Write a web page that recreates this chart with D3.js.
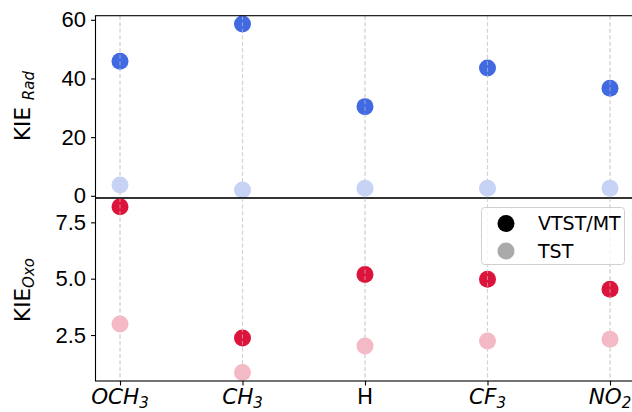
<!DOCTYPE html>
<html>
<head>
<meta charset="utf-8">
<script src="https://cdn.jsdelivr.net/npm/d3@7"></script>
<style>
body{margin:0;background:#fff;}
svg{font-family:"DejaVu Sans",sans-serif;}
.tick text{font-size:22px;fill:#000;}
</style>
</head>
<body>
<svg id="chart" width="632" height="412"></svg>
<script>
// substituents (label base + subscript, italic or not)
var groups = [
  {base:"OCH", sub:"3", it:true},
  {base:"CH", sub:"3", it:true},
  {base:"H", sub:"", it:false},
  {base:"CF", sub:"3", it:true},
  {base:"NO", sub:"2", it:true}
];
var radVTST = [45.9, 58.6, 30.4, 43.6, 36.7];
var radTST  = [3.7, 2.0, 2.6, 2.6, 2.6];
var oxoVTST = [8.19, 2.37, 5.19, 4.97, 4.53];
var oxoTST  = [2.99, 0.84, 2.01, 2.23, 2.31];
var radTicks = [0, 20, 40, 60];
var oxoTicks = [2.5, 5.0, 7.5];

var svg = d3.select("#chart");
var left = 95.5, right = 634.5, top1 = 15.7, mid = 198, bot = 381;
var fs = 21.5, fsSub = 15;

var x = d3.scaleLinear().domain([-0.2, 4.2]).range([left, right]);
var yRad = d3.scaleLinear().domain([-0.75, 61.4]).range([mid, top1]);
var yOxo = d3.scaleLinear().domain([0.46, 8.58]).range([bot, mid]);

function panel(y, y0, y1, ticks, fmt, vtst, tst, col, colLight){
  var g = svg.append("g");
  g.selectAll(".grid").data(groups).enter().append("line")
    .attr("x1", function(d,i){return x(i);}).attr("x2", function(d,i){return x(i);})
    .attr("y1", y0).attr("y2", y1)
    .attr("stroke", "#d3d3d3").attr("stroke-width", 1.1)
    .attr("stroke-dasharray", "4,2.5");

  g.selectAll(".tst").data(tst).enter().append("circle")
    .attr("cx", function(d,i){return x(i);})
    .attr("cy", function(d){return y(d);})
    .attr("r", 8.5).attr("fill", colLight);
  g.selectAll(".vtst").data(vtst).enter().append("circle")
    .attr("cx", function(d,i){return x(i);})
    .attr("cy", function(d){return y(d);})
    .attr("r", 8.5).attr("fill", col);

  // faint grid on top of the markers
  g.selectAll(".grid2").data(groups).enter().append("line")
    .attr("x1", function(d,i){return x(i);}).attr("x2", function(d,i){return x(i);})
    .attr("y1", y0).attr("y2", y1)
    .attr("stroke", "#d3d3d3").attr("stroke-opacity", 0.55).attr("stroke-width", 1.1)
    .attr("stroke-dasharray", "4,2.5");

  var ax = svg.append("g").attr("transform", "translate(" + left + ",0)")
    .call(d3.axisLeft(y).tickValues(ticks).tickFormat(fmt).tickSizeOuter(0).tickSize(4.5).tickPadding(5));
  ax.select(".domain").remove();
  ax.selectAll(".tick line").attr("stroke-width", 1.1);

  svg.append("rect").attr("x", left).attr("y", y0).attr("width", right - left).attr("height", y1 - y0)
    .attr("fill", "none").attr("stroke", "#000").attr("stroke-width", 1.1);
}

panel(yRad, top1, mid, radTicks, d3.format("d"), radVTST, radTST, "#4169e1", "#c6d2f6");
panel(yOxo, mid, bot, oxoTicks, d3.format(".1f"), oxoVTST, oxoTST, "#dc143c", "#f4b9c5");

// x axis at bottom
var xa = svg.append("g").attr("transform", "translate(0," + bot + ")")
  .call(d3.axisBottom(x).tickValues(d3.range(groups.length)).tickSize(4.5).tickFormat(""));
xa.select(".domain").remove();
xa.selectAll(".tick line").attr("stroke-width", 1.1);
var xl = svg.selectAll(".xlab").data(groups).enter().append("text")
  .attr("x", function(d,i){return x(i);}).attr("y", 404)
  .attr("text-anchor", "middle").style("font-size", fs + "px")
  .style("font-style", function(d){return d.it ? "italic" : "normal";});
xl.append("tspan").text(function(d){return d.base;});
xl.append("tspan").attr("dy", 4).style("font-size", fsSub + "px").text(function(d){return d.sub;});

// y labels
var l1 = svg.append("text").attr("transform", "translate(30,106) rotate(-90)")
  .attr("text-anchor", "middle").style("font-size", fs + "px");
l1.append("tspan").text("KIE ");
l1.append("tspan").attr("dy", 4).style("font-size", fsSub + "px").style("font-style", "italic").text("Rad");
var l2 = svg.append("text").attr("transform", "translate(30,290) rotate(-90)")
  .attr("text-anchor", "middle").style("font-size", fs + "px");
l2.append("tspan").text("KIE");
l2.append("tspan").attr("dy", 4).style("font-size", fsSub + "px").style("font-style", "italic").text("Oxo");

// legend
var leg = svg.append("g");
leg.append("rect").attr("x", 481.5).attr("y", 207.5).attr("width", 143).attr("height", 57).attr("rx", 3)
  .attr("fill", "#fff").attr("fill-opacity", 0.8).attr("stroke", "#d0d0d0").attr("stroke-width", 1);
var legItems = [{name:"VTST/MT", c:"#000"}, {name:"TST", c:"#aaaaaa"}];
legItems.forEach(function(d, i){
  leg.append("circle").attr("cx", 506).attr("cy", 223.5 + i*27.5).attr("r", 8.5).attr("fill", d.c);
  leg.append("text").attr("x", 538).attr("y", 230 + i*27.5).style("font-size", "19px").text(d.name);
});
</script>
</body>
</html>
